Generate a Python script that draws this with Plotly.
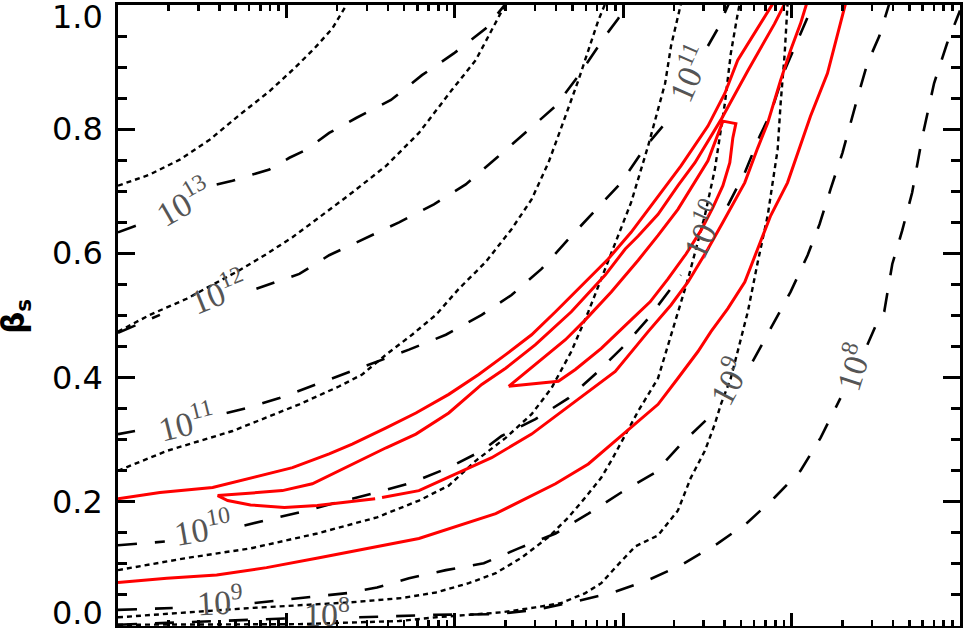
import plotly.graph_objects as go

# ---------------- axis setup (x is logarithmic: values stored as log10 x) ----------------
X_LOG_RANGE = [0, 5]
Y_RANGE = [0, 1]
ytick_vals = [0.0, 0.2, 0.4, 0.6, 0.8, 1.0]
ytick_text = ["0.0", "0.2", "0.4", "0.6", "0.8", "1.0"]
y_title = "<b>β<sub>s</sub></b>"

# ---------------- dashed contours (labelled 1e8 ... 1e13) ----------------
dash13_lx = [0.0, 0.130, None, 0.586, 0.680, 0.799, 0.899, 1.018, 1.118, 1.254, 1.414, 1.621, 1.805, 1.994, 2.183, 2.302]
dash13_y = [0.634, 0.647, None, 0.711, 0.717, 0.727, 0.735, 0.754, 0.767, 0.794, 0.818, 0.847, 0.887, 0.922, 0.962, 1.002]

dash12_lx = [0.0, 0.249, None, 0.822, 0.941, 1.077, 1.254, 1.462, 1.669, 1.876, 2.065, 2.249, 2.420, 2.598, 2.734, 2.893, 2.970, 3.030]
dash12_y = [0.472, 0.501, None, 0.543, 0.554, 0.567, 0.597, 0.623, 0.650, 0.679, 0.711, 0.754, 0.794, 0.837, 0.886, 0.950, 0.978, 1.002]

dash11_lx = [0.0, 0.101, None, 0.645, 0.763, 0.959, 1.195, 1.509, 1.728, 1.947, 2.160, 2.337, 2.515, 2.675, 2.834, 2.988, 3.136, 3.266, None, 3.503, 3.562, 3.627]
dash11_y = [0.309, 0.314, None, 0.343, 0.351, 0.367, 0.391, 0.423, 0.445, 0.469, 0.501, 0.533, 0.575, 0.623, 0.669, 0.714, 0.773, 0.815, None, 0.934, 0.962, 1.002]

dash10_lx = [0.0, 0.278, None, 0.751, 1.077, 1.302, 1.538, 1.746, 1.964, 2.160, 2.278, 2.479, 2.675, 2.852, 3.012, 3.148, 3.284, 3.343, None, 3.621, 3.722, 3.811, 3.876, 3.959, 4.077, 4.130]
dash10_y = [0.130, 0.136, None, 0.162, 0.183, 0.199, 0.215, 0.231, 0.255, 0.282, 0.306, 0.333, 0.367, 0.410, 0.453, 0.495, 0.543, 0.565, None, 0.677, 0.730, 0.789, 0.826, 0.895, 0.970, 1.002]

dash9_lx = [0.0, 0.325, None, 0.811, 1.142, 1.361, 1.538, 1.728, 1.947, 2.172, 2.379, 2.598, 2.793, 2.988, 3.189, 3.343, 3.521, None, 3.769, 3.876, 3.994, 4.095, 4.166, 4.231, 4.302, 4.402, 4.450, 4.521, 4.580]
dash9_y = [0.026, 0.029, None, 0.037, 0.046, 0.053, 0.062, 0.077, 0.090, 0.101, 0.125, 0.149, 0.181, 0.215, 0.247, 0.293, 0.339, None, 0.426, 0.479, 0.538, 0.597, 0.647, 0.703, 0.762, 0.861, 0.906, 0.950, 1.002]

dash8_lx = [0.0, 0.870, 1.077, None, 1.432, 1.888, 2.243, 2.479, 2.692, 2.929, 3.148, 3.343, 3.562, 3.740, 3.899, 4.053, 4.172, 4.290, None, 4.450, 4.497, 4.550, 4.598, 4.657, 4.716, 4.775, 4.846, 4.923, 5.000]
dash8_y = [0.002, 0.011, 0.013, None, 0.014, 0.018, 0.019, 0.026, 0.038, 0.053, 0.074, 0.098, 0.133, 0.167, 0.207, 0.250, 0.303, 0.367, None, 0.453, 0.482, 0.506, 0.583, 0.637, 0.698, 0.786, 0.874, 0.938, 0.991]

# ---------------- dotted contours ----------------
dot1_lx = [0.0, 0.189, 0.367, 0.544, 0.722, 0.899, 1.047, 1.166, 1.272, 1.361]
dot1_y = [0.709, 0.727, 0.751, 0.783, 0.823, 0.861, 0.898, 0.930, 0.962, 1.002]

dot2_lx = [0.0, 0.189, 0.408, 0.562, 0.722, 0.882, 1.036, 1.195, 1.391, 1.592, 1.787, 1.982, 2.124, 2.302]
dot2_y = [0.474, 0.501, 0.527, 0.549, 0.573, 0.599, 0.626, 0.658, 0.698, 0.741, 0.794, 0.863, 0.911, 1.002]

dot3_lx = [0.0, 0.290, 0.680, 1.077, 1.314, 1.450, 1.592, 1.746, 1.888, 2.024, 2.183, 2.337, 2.456, 2.556, 2.657, 2.734, 2.793, 2.852, 2.893]
dot3_y = [0.250, 0.282, 0.314, 0.357, 0.386, 0.405, 0.437, 0.469, 0.501, 0.543, 0.586, 0.639, 0.687, 0.746, 0.821, 0.879, 0.927, 0.975, 1.002]

dot4_lx = [0.0, 0.396, 0.787, 1.183, 1.538, 1.787, 1.964, 2.124, 2.302, 2.456, 2.574, 2.692, 2.793, 2.929, 3.047, 3.148, 3.249, 3.284, 3.343]
dot4_y = [0.090, 0.109, 0.125, 0.149, 0.175, 0.202, 0.226, 0.266, 0.303, 0.341, 0.383, 0.442, 0.506, 0.602, 0.682, 0.773, 0.874, 0.934, 1.002]

dot5_lx = [0.0, 0.396, 0.787, 1.379, 1.686, 1.888, 2.083, 2.243, 2.396, 2.556, 2.675, 2.775, 2.870, 2.929, 3.089, 3.207, 3.325, 3.385, 3.485, 3.544, 3.604, 3.639, 3.680, 3.692]
dot5_y = [0.014, 0.021, 0.029, 0.038, 0.045, 0.054, 0.069, 0.085, 0.110, 0.143, 0.175, 0.207, 0.239, 0.266, 0.346, 0.399, 0.506, 0.559, 0.661, 0.735, 0.842, 0.922, 0.986, 1.002]

dot6_lx = [0.0, 1.077, 1.669, 1.888, 2.083, 2.278, 2.479, 2.633, 2.775, 2.870, 2.953, 3.071, 3.207, 3.325, 3.402, 3.485, 3.544, 3.580, 3.639, 3.680, 3.722, 3.740, 3.799, 3.858, 3.917, 3.935, 3.959, 3.976]
dot6_y = [0.002, 0.003, 0.008, 0.014, 0.018, 0.022, 0.030, 0.037, 0.053, 0.069, 0.094, 0.128, 0.146, 0.186, 0.239, 0.282, 0.325, 0.357, 0.399, 0.442, 0.485, 0.506, 0.586, 0.661, 0.767, 0.842, 0.922, 1.002]

# ---------------- red confidence contours ----------------
red_outer_lx = [0.0, 0.249, 0.562, 0.799, 1.036, 1.254, 1.391, 1.592, 1.769, 1.964, 2.142, 2.302, 2.456, 2.598, 2.775, 2.911, 3.047, 3.166, 3.343, 3.503, 3.604, 3.680, 3.799, 3.888,
                None,
                0.0, 0.290, 0.586, 0.882, 1.195, 1.592, 1.787, 2.243, 2.598, 2.793, 3.047, 3.207, 3.325, 3.444, 3.521, 3.621, 3.722, 3.799, 3.876, 3.976, 4.036, 4.112, 4.213, 4.290, 4.320]
red_outer_y = [0.205, 0.215, 0.223, 0.239, 0.255, 0.277, 0.293, 0.319, 0.343, 0.373, 0.405, 0.437, 0.469, 0.506, 0.554, 0.591, 0.634, 0.677, 0.741, 0.805, 0.858, 0.911, 0.962, 1.002,
               None,
               0.070, 0.077, 0.082, 0.094, 0.110, 0.130, 0.141, 0.181, 0.229, 0.261, 0.319, 0.357, 0.399, 0.442, 0.474, 0.511, 0.554, 0.607, 0.661, 0.714, 0.762, 0.821, 0.890, 0.970, 1.002]

red_mid_lx = [3.959, 3.899, 3.740, 3.580, 3.426, 3.325, 3.207, 3.089, 3.012, 2.893, 2.692, 2.479, 2.302, 2.160, 1.964, 1.769, 1.592, 1.391, 1.254, 1.154, 0.976, 0.763, 0.592,
              0.651, 0.787, 0.988, 1.183, 1.527, None, 1.568, 1.787, 2.006, 2.219, 2.456, 2.775, 2.953, 3.148, 3.284, 3.385, 3.503, 3.592, 3.663, 3.722, 3.799, 3.858, 3.935, 3.994, 4.053, 4.089]
red_mid_y = [1.002, 0.970, 0.894, 0.815, 0.746, 0.709, 0.663, 0.628, 0.607, 0.565, 0.506, 0.453, 0.415, 0.389, 0.343, 0.309, 0.287, 0.261, 0.242, 0.229, 0.218, 0.213, 0.210,
             0.202, 0.195, 0.191, 0.194, 0.205, None, 0.207, 0.218, 0.245, 0.271, 0.309, 0.373, 0.410, 0.474, 0.517, 0.554, 0.607, 0.650, 0.685, 0.714, 0.770, 0.810, 0.879, 0.927, 0.970, 1.002]

red_inner_lx = [2.320, 2.497, 2.657, 2.775, 2.929, 3.089, 3.207, 3.325, 3.414, 3.503, 3.592, 3.669, 3.651, 3.633, 3.592, 3.533, 3.462, 3.373, 3.266, 3.160, 3.047, 2.870, 2.716, 2.615, 2.320]
red_inner_y = [0.386, 0.426, 0.461, 0.493, 0.538, 0.589, 0.629, 0.671, 0.711, 0.749, 0.813, 0.809, 0.786, 0.746, 0.709, 0.674, 0.637, 0.599, 0.559, 0.522, 0.493, 0.447, 0.413, 0.394, 0.386]

# ---------------- contour labels ----------------
label_text = ["10<sup>13</sup>", "10<sup>12</sup>", "10<sup>11</sup>", "10<sup>10</sup>", "10<sup>9</sup>", "10<sup>8</sup>",
              "10<sup>11</sup>", "10<sup>10</sup>", "10<sup>9</sup>", "10<sup>8</sup>"]
label_lx = [0.385, 0.592, 0.408, 0.503, 0.604, 1.243, 3.385, 3.473, 3.621, 4.361]
label_y = [0.685, 0.540, 0.330, 0.159, 0.042, 0.022, 0.890, 0.639, 0.394, 0.418]
label_angle = [-30, -22, -14, -10, -3, 0, -66, -65, -62, -72]


def to_x(lx):
    return [None if v is None else 10 ** v for v in lx]


fig = go.Figure()

dotted = dict(color="black", width=2.4, dash="5px,4px")
dashed = dict(color="black", width=2.6, dash="19px,18px")
red = dict(color="#ff0000", width=3)

for lx, yy in [(dot1_lx, dot1_y), (dot2_lx, dot2_y), (dot3_lx, dot3_y),
               (dot4_lx, dot4_y), (dot5_lx, dot5_y), (dot6_lx, dot6_y)]:
    fig.add_trace(go.Scatter(x=to_x(lx), y=yy, mode="lines", line=dotted,
                             showlegend=False, hoverinfo="skip", connectgaps=False))

for lx, yy in [(dash13_lx, dash13_y), (dash12_lx, dash12_y), (dash11_lx, dash11_y),
               (dash10_lx, dash10_y), (dash9_lx, dash9_y), (dash8_lx, dash8_y)]:
    fig.add_trace(go.Scatter(x=to_x(lx), y=yy, mode="lines", line=dashed,
                             showlegend=False, hoverinfo="skip", connectgaps=False))

for lx, yy in [(red_outer_lx, red_outer_y), (red_mid_lx, red_mid_y), (red_inner_lx, red_inner_y)]:
    fig.add_trace(go.Scatter(x=to_x(lx), y=yy, mode="lines", line=red,
                             showlegend=False, hoverinfo="skip", connectgaps=False))

annotations = []
for t, lx, yy, ang in zip(label_text, label_lx, label_y, label_angle):
    annotations.append(dict(x=lx, y=yy, xref="x", yref="y", text=t, showarrow=False,
                            textangle=ang, xanchor="center", yanchor="middle",
                            font=dict(family="Liberation Serif", size=34, color="#555555")))

# y tick labels (end labels nudged inside the figure, as in the original)
for v, t in zip(ytick_vals, ytick_text):
    shift = 0
    if v == max(ytick_vals):
        shift = -12
    elif v == min(ytick_vals):
        shift = 13
    annotations.append(dict(x=-0.0154, y=v, xref="paper", yref="y", text=t, showarrow=False,
                            xanchor="right", yanchor="middle", yshift=shift,
                            font=dict(family="DejaVu Sans", size=32, color="black")))

annotations.append(dict(x=-0.121, y=0.498, xref="paper", yref="paper", text=y_title,
                        showarrow=False, textangle=-90, xanchor="center", yanchor="middle",
                        font=dict(family="DejaVu Sans", size=31, color="black")))

fig.update_layout(
    width=965, height=628,
    margin=dict(l=118, r=4, t=2, b=2),
    paper_bgcolor="white", plot_bgcolor="white",
    showlegend=False,
    hovermode=False,
    annotations=annotations,
    xaxis=dict(type="log", range=X_LOG_RANGE, showline=True, linewidth=3, linecolor="black",
               mirror="ticks", ticks="inside", ticklen=13, tickwidth=3, tickcolor="black",
               dtick=1, showticklabels=False, showgrid=False, zeroline=False,
               minor=dict(ticks="inside", ticklen=6, tickwidth=2.5, tickcolor="black",
                          dtick="D1", showgrid=False)),
    yaxis=dict(range=Y_RANGE, showline=True, linewidth=3, linecolor="black",
               mirror="ticks", ticks="inside", ticklen=17, tickwidth=3, tickcolor="black",
               tickvals=ytick_vals, showticklabels=False, showgrid=False, zeroline=False,
               minor=dict(ticks="inside", ticklen=9, tickwidth=3, tickcolor="black",
                          dtick=0.05, showgrid=False)),
)

fig.write_html("out.html", config={"displayModeBar": False, "staticPlot": True},
               post_script="document.body.style.margin='0';document.body.style.padding='0';")
